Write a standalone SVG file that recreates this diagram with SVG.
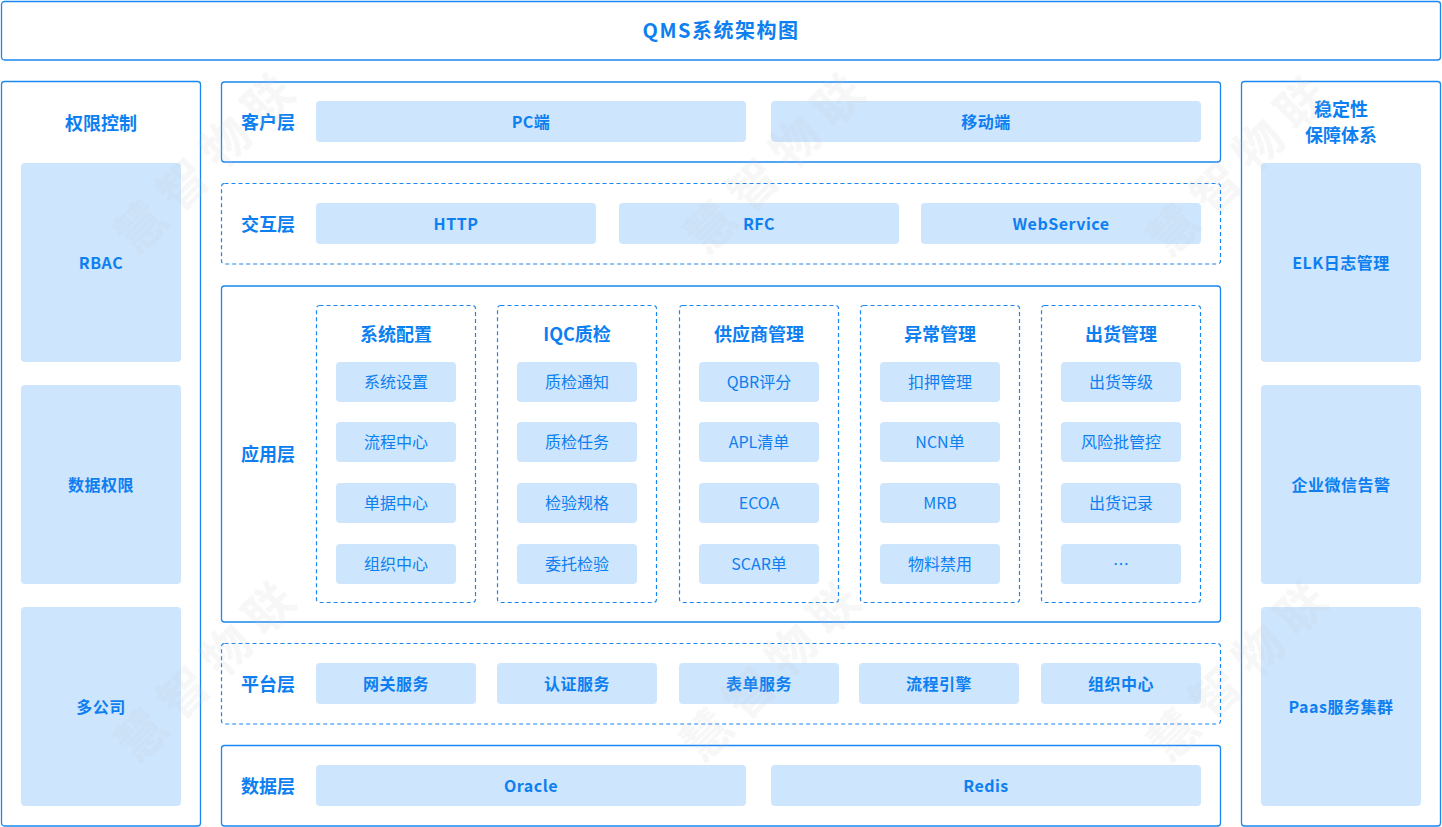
<svg xmlns="http://www.w3.org/2000/svg" width="1442" height="827" viewBox="0 0 1442 827">
<style>
.frame{fill:#fff;stroke:#1a86f2;stroke-width:1.3}
.dash{fill:#fff;stroke:#1a86f2;stroke-width:1.2;stroke-dasharray:4 3}
.cell{fill:#cde5fd}
text{font-family:"Noto Sans CJK SC","Noto Sans",sans-serif;fill:#0d7ff0;text-anchor:middle;dominant-baseline:central}
.h{font-size:18px;font-weight:bold}
.t{font-size:20px;font-weight:bold;letter-spacing:1.5px}
.b{font-size:16px;font-weight:bold;letter-spacing:0.5px}
.n{font-size:16px}
.wm{font-size:48px;font-weight:bold;fill:#c8c8c8;opacity:0.13;letter-spacing:12px}
</style>
<rect width="1442" height="827" fill="#fff"/>
<g id="title">
<rect class="frame" x="1.5" y="1.5" width="1439" height="58.5" rx="3"/>
<text class="t" x="721" y="29">QMS系统架构图</text>
</g>
<g id="left-panel">
<rect class="frame" x="1.5" y="81.5" width="199" height="744.5" rx="3"/>
<text class="h" x="101" y="122">权限控制</text>
<rect class="cell" x="21" y="163" width="160" height="199" rx="4"/>
<text class="b" x="101" y="262">RBAC</text>
<rect class="cell" x="21" y="385" width="160" height="199" rx="4"/>
<text class="b" x="101" y="484">数据权限</text>
<rect class="cell" x="21" y="607" width="160" height="199" rx="4"/>
<text class="b" x="101" y="706">多公司</text>
</g>
<g id="right-panel">
<rect class="frame" x="1241.5" y="81.5" width="199" height="744.5" rx="3"/>
<text class="h" x="1341" y="108">稳定性</text>
<text class="h" x="1341" y="134">保障体系</text>
<rect class="cell" x="1261" y="163" width="160" height="199" rx="4"/>
<text class="b" x="1341" y="262">ELK日志管理</text>
<rect class="cell" x="1261" y="385" width="160" height="199" rx="4"/>
<text class="b" x="1341" y="484">企业微信告警</text>
<rect class="cell" x="1261" y="607" width="160" height="199" rx="4"/>
<text class="b" x="1341" y="706">Paas服务集群</text>
</g>
<g id="client-layer">
<rect class="frame" x="221.5" y="82" width="999" height="80" rx="3"/>
<text class="h" x="268" y="121">客户层</text>
<rect class="cell" x="316" y="101" width="430" height="41" rx="4"/>
<text class="b" x="531" y="121">PC端</text>
<rect class="cell" x="771" y="101" width="430" height="41" rx="4"/>
<text class="b" x="986" y="121">移动端</text>
</g>
<g id="interaction-layer">
<rect class="dash" x="221.5" y="183.5" width="999" height="80.5" rx="3"/>
<text class="h" x="268" y="223">交互层</text>
<rect class="cell" x="316" y="203" width="280" height="41" rx="4"/>
<text class="b" x="456" y="223">HTTP</text>
<rect class="cell" x="619" y="203" width="280" height="41" rx="4"/>
<text class="b" x="759" y="223">RFC</text>
<rect class="cell" x="921" y="203" width="280" height="41" rx="4"/>
<text class="b" x="1061" y="223">WebService</text>
</g>
<g id="application-layer">
<rect class="frame" x="221.5" y="286" width="999" height="336" rx="3"/>
<text class="h" x="268" y="453">应用层</text>
<g id="sys-config">
<rect class="dash" x="316.5" y="305.5" width="159" height="297" rx="3"/>
<text class="h" x="396" y="333">系统配置</text>
<rect class="cell" x="336" y="362" width="120" height="40" rx="4"/><text class="n" x="396" y="381">系统设置</text>
<rect class="cell" x="336" y="422" width="120" height="40" rx="4"/><text class="n" x="396" y="441">流程中心</text>
<rect class="cell" x="336" y="483" width="120" height="40" rx="4"/><text class="n" x="396" y="502">单据中心</text>
<rect class="cell" x="336" y="544" width="120" height="40" rx="4"/><text class="n" x="396" y="563">组织中心</text>
</g>
<g id="iqc">
<rect class="dash" x="497.5" y="305.5" width="159" height="297" rx="3"/>
<text class="h" x="577" y="333">IQC质检</text>
<rect class="cell" x="517" y="362" width="120" height="40" rx="4"/><text class="n" x="577" y="381">质检通知</text>
<rect class="cell" x="517" y="422" width="120" height="40" rx="4"/><text class="n" x="577" y="441">质检任务</text>
<rect class="cell" x="517" y="483" width="120" height="40" rx="4"/><text class="n" x="577" y="502">检验规格</text>
<rect class="cell" x="517" y="544" width="120" height="40" rx="4"/><text class="n" x="577" y="563">委托检验</text>
</g>
<g id="supplier">
<rect class="dash" x="679.5" y="305.5" width="159" height="297" rx="3"/>
<text class="h" x="759" y="333">供应商管理</text>
<rect class="cell" x="699" y="362" width="120" height="40" rx="4"/><text class="n" x="759" y="381">QBR评分</text>
<rect class="cell" x="699" y="422" width="120" height="40" rx="4"/><text class="n" x="759" y="441">APL清单</text>
<rect class="cell" x="699" y="483" width="120" height="40" rx="4"/><text class="n" x="759" y="502">ECOA</text>
<rect class="cell" x="699" y="544" width="120" height="40" rx="4"/><text class="n" x="759" y="563">SCAR单</text>
</g>
<g id="exception">
<rect class="dash" x="860.5" y="305.5" width="159" height="297" rx="3"/>
<text class="h" x="940" y="333">异常管理</text>
<rect class="cell" x="880" y="362" width="120" height="40" rx="4"/><text class="n" x="940" y="381">扣押管理</text>
<rect class="cell" x="880" y="422" width="120" height="40" rx="4"/><text class="n" x="940" y="441">NCN单</text>
<rect class="cell" x="880" y="483" width="120" height="40" rx="4"/><text class="n" x="940" y="502">MRB</text>
<rect class="cell" x="880" y="544" width="120" height="40" rx="4"/><text class="n" x="940" y="563">物料禁用</text>
</g>
<g id="shipment">
<rect class="dash" x="1041.5" y="305.5" width="159" height="297" rx="3"/>
<text class="h" x="1121" y="333">出货管理</text>
<rect class="cell" x="1061" y="362" width="120" height="40" rx="4"/><text class="n" x="1121" y="381">出货等级</text>
<rect class="cell" x="1061" y="422" width="120" height="40" rx="4"/><text class="n" x="1121" y="441">风险批管控</text>
<rect class="cell" x="1061" y="483" width="120" height="40" rx="4"/><text class="n" x="1121" y="502">出货记录</text>
<rect class="cell" x="1061" y="544" width="120" height="40" rx="4"/><text class="n" x="1121" y="563">…</text>
</g>
</g>
<g id="platform-layer">
<rect class="dash" x="221.5" y="643.5" width="999" height="80.5" rx="3"/>
<text class="h" x="268" y="683">平台层</text>
<rect class="cell" x="316" y="663" width="160" height="41" rx="4"/><text class="b" x="396" y="683">网关服务</text>
<rect class="cell" x="497" y="663" width="160" height="41" rx="4"/><text class="b" x="577" y="683">认证服务</text>
<rect class="cell" x="679" y="663" width="160" height="41" rx="4"/><text class="b" x="759" y="683">表单服务</text>
<rect class="cell" x="859" y="663" width="160" height="41" rx="4"/><text class="b" x="939" y="683">流程引擎</text>
<rect class="cell" x="1041" y="663" width="160" height="41" rx="4"/><text class="b" x="1121" y="683">组织中心</text>
</g>
<g id="data-layer">
<rect class="frame" x="221.5" y="745.5" width="999" height="80.5" rx="3"/>
<text class="h" x="268" y="785">数据层</text>
<rect class="cell" x="316" y="765" width="430" height="41" rx="4"/><text class="b" x="531" y="785">Oracle</text>
<rect class="cell" x="771" y="765" width="430" height="41" rx="4"/><text class="b" x="986" y="785">Redis</text>
</g>
<g id="connectors"></g>
<g id="watermark">
<text class="wm" transform="translate(206,157) rotate(-45)">慧智物联</text>
<text class="wm" transform="translate(776,157) rotate(-45)">慧智物联</text>
<text class="wm" transform="translate(1239,160) rotate(-45)">慧智物联</text>
<text class="wm" transform="translate(207,665) rotate(-45)">慧智物联</text>
<text class="wm" transform="translate(772,665) rotate(-45)">慧智物联</text>
<text class="wm" transform="translate(1239,665) rotate(-45)">慧智物联</text>
</g>
</svg>
